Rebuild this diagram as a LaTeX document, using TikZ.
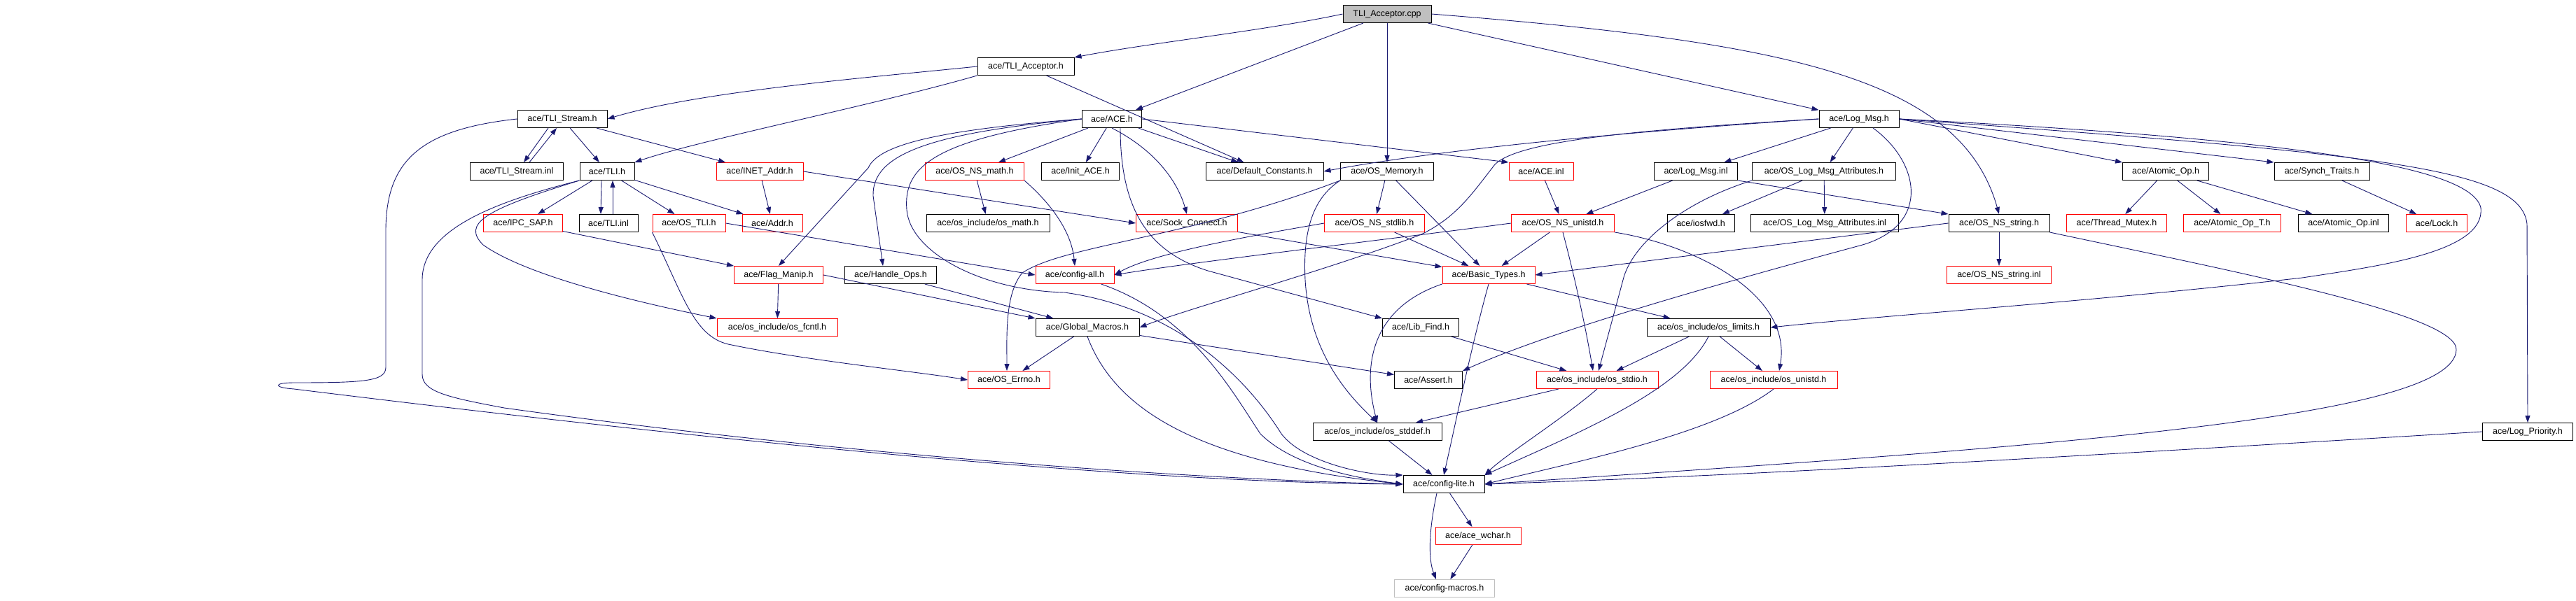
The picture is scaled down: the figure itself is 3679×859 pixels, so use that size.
\documentclass[tikz,border=0pt]{standalone}
\usepackage{fontspec}
\setmainfont{Liberation Sans}
\usetikzlibrary{arrows.meta}
\definecolor{edgeblue}{HTML}{191970}
\definecolor{topgray}{HTML}{BFBFBF}
\tikzset{
  file/.style={draw=black, line width=1pt, minimum height=25pt, inner sep=0pt, fill=white,
    font=\fontsize{12.5}{14}\selectfont},
  nofile/.style={file, draw=red},
  dep/.style={draw=edgeblue, line width=0.9pt, -{Triangle[length=10pt,width=7pt]}},
}
\begin{document}
\begin{tikzpicture}[x=1pt,y=-1pt]
  \useasboundingbox (0,0) rectangle (3679,859);
  %%%%% files %%%%%
  \node[file, fill=topgray, minimum width=126pt] (cpp) at (1981,20) {TLI\_Acceptor.cpp};
  \node[file, minimum width=138pt] (tliacc) at (1465,95) {ace/TLI\_Acceptor.h};

  \node[file, minimum width=128pt] (tlis) at (803,170) {ace/TLI\_Stream.h};
  \node[file, minimum width=85pt] (ace) at (1588,170) {ace/ACE.h};
  \node[file, minimum width=114pt] (logmsg) at (2655,170) {ace/Log\_Msg.h};

  \node[file, minimum width=133pt] (tlisinl) at (738,245) {ace/TLI\_Stream.inl};
  \node[file, minimum width=78pt] (tli) at (867,245) {ace/TLI.h};
  \node[nofile, minimum width=124pt] (inet) at (1085,245) {ace/INET\_Addr.h};
  \node[nofile, minimum width=141pt] (nsmath) at (1392,245) {ace/OS\_NS\_math.h};
  \node[file, minimum width=111pt] (init) at (1543,245) {ace/Init\_ACE.h};
  \node[file, minimum width=168pt] (defc) at (1806,245) {ace/Default\_Constants.h};
  \node[file, minimum width=133pt] (mem) at (1981,245) {ace/OS\_Memory.h};
  \node[nofile, minimum width=92pt] (aceinl) at (2201,245) {ace/ACE.inl};
  \node[file, minimum width=119pt] (logmsginl) at (2422,245) {ace/Log\_Msg.inl};
  \node[file, minimum width=205pt] (lma) at (2605,245) {ace/OS\_Log\_Msg\_Attributes.h};
  \node[file, minimum width=123pt] (atom) at (3093,245) {ace/Atomic\_Op.h};
  \node[file, minimum width=136pt] (synch) at (3316,245) {ace/Synch\_Traits.h};

  \node[nofile, minimum width=113pt] (ipc) at (747,319) {ace/IPC\_SAP.h};
  \node[file, minimum width=84pt] (tliinl) at (869,319) {ace/TLI.inl};
  \node[nofile, minimum width=104pt] (ostli) at (984,319) {ace/OS\_TLI.h};
  \node[nofile, minimum width=86pt] (addr) at (1103,319) {ace/Addr.h};
  \node[file, minimum width=176pt] (osmath) at (1411,319) {ace/os\_include/os\_math.h};
  \node[nofile, minimum width=145pt] (sock) at (1695,319) {ace/Sock\_Connect.h};
  \node[nofile, minimum width=143pt] (nsstdlib) at (1963,319) {ace/OS\_NS\_stdlib.h};
  \node[nofile, minimum width=147pt] (nsunistd) at (2232,319) {ace/OS\_NS\_unistd.h};
  \node[file, minimum width=96pt] (iosfwd) at (2429,319) {ace/iosfwd.h};
  \node[file, minimum width=211pt] (lmainl) at (2606,319) {ace/OS\_Log\_Msg\_Attributes.inl};
  \node[file, minimum width=144pt] (nsstring) at (2855,319) {ace/OS\_NS\_string.h};
  \node[nofile, minimum width=143pt] (mutex) at (3023,319) {ace/Thread\_Mutex.h};
  \node[nofile, minimum width=139pt] (atomt) at (3188,319) {ace/Atomic\_Op\_T.h};
  \node[file, minimum width=129pt] (atominl) at (3347,319) {ace/Atomic\_Op.inl};
  \node[nofile, minimum width=87pt] (lock) at (3480,319) {ace/Lock.h};

  \node[nofile, minimum width=127pt] (flag) at (1112,393) {ace/Flag\_Manip.h};
  \node[file, minimum width=131pt] (handle) at (1272,393) {ace/Handle\_Ops.h};
  \node[nofile, minimum width=112pt] (cfgall) at (1535,393) {ace/config-all.h};
  \node[nofile, minimum width=132pt] (basic) at (2126,393) {ace/Basic\_Types.h};
  \node[nofile, minimum width=149pt] (nsstringinl) at (2855,393) {ace/OS\_NS\_string.inl};

  \node[nofile, minimum width=172pt] (fcntl) at (1110,468) {ace/os\_include/os\_fcntl.h};
  \node[file, minimum width=148pt] (gmac) at (1553,468) {ace/Global\_Macros.h};
  \node[file, minimum width=109pt] (libfind) at (2029,468) {ace/Lib\_Find.h};
  \node[file, minimum width=176pt] (limits) at (2440,468) {ace/os\_include/os\_limits.h};

  \node[nofile, minimum width=117pt] (errno) at (1441,543) {ace/OS\_Errno.h};
  \node[file, minimum width=97pt] (assert) at (2040,543) {ace/Assert.h};
  \node[nofile, minimum width=174pt] (stdio) at (2281,543) {ace/os\_include/os\_stdio.h};
  \node[nofile, minimum width=182pt] (unistd) at (2533,543) {ace/os\_include/os\_unistd.h};

  \node[file, minimum width=184pt] (stddef) at (1967,617) {ace/os\_include/os\_stddef.h};
  \node[file, minimum width=129pt] (logprio) at (3610,617) {ace/Log\_Priority.h};
  \node[file, minimum width=116pt] (lite) at (2062,692) {ace/config-lite.h};
  \node[nofile, minimum width=122pt] (wchar) at (2111,766) {ace/ace\_wchar.h};
  \node[file, draw=topgray, minimum width=143pt] (macros) at (2063,841) {ace/config-macros.h};

  %%%%% includes %%%%%
  \draw[dep] (cpp.west) .. controls (1800,45) and (1650,60) .. (tliacc.north east);
  \draw[dep] (cpp) -- (ace);
  \draw[dep] (cpp) -- (mem);
  \draw[dep] (cpp) -- (logmsg);
  \draw[dep] (cpp.east) .. controls (2550,60) and (2800,110) .. (nsstring.north);

  \draw[dep] (tliacc.west) .. controls (1250,110) and (1000,130) .. (tlis.east);
  \draw[dep] (tliacc.south west) .. controls (1250,150) and (1000,200) .. (tli.north east);
  \draw[dep] (tliacc) -- (defc);

  \draw[dep] ([xshift=-20pt]tlis.south) -- ([xshift=10pt]tlisinl.north);
  \draw[dep] ([xshift=18pt]tlisinl.north) -- ([xshift=-8pt]tlis.south);
  \draw[dep] (tlis) -- (tli);
  \draw[dep] (tlis) -- (inet);
  \draw[dep] (tlis.west) .. controls (600,185) and (551,230) .. (551,330) -- (551,525)
    .. controls (551,545) and (520,547) .. (420,547) .. controls (390,547) and (390,554) .. (420,556)
    .. controls (1100,640) and (1650,690) .. (lite.west);

  \draw[dep] (tli) -- (ipc);
  \draw[dep] ([xshift=-8pt]tli.south) -- ([xshift=-11pt]tliinl.north);
  \draw[dep] ([xshift=6pt]tliinl.north) -- ([xshift=8pt]tli.south);
  \draw[dep] (tli) -- (ostli);
  \draw[dep] (tli) -- (addr);
  \draw[dep] (tli.south west) .. controls (690,300) and (660,320) .. (690,350)
    .. controls (760,400) and (950,440) .. (fcntl.north west);
  \draw[dep] (tli.south west) .. controls (700,290) and (603,330) .. (603,400) -- (603,535)
    .. controls (603,560) and (640,568) .. (720,583) .. controls (1200,650) and (1700,685) .. (lite.west);

  \draw[dep] (inet) -- (addr);
  \draw[dep] (inet.east) -- (sock.west);
  \draw[dep] (ipc) -- (flag);
  \draw[dep] (ostli.south west) .. controls (975,420) and (990,480) .. (1040,492)
    .. controls (1150,515) and (1300,530) .. (errno.west);
  \draw[dep] (ostli.east) -- (cfgall.west);

  \draw[dep] (ace) -- (nsmath);
  \draw[dep] (ace) -- (init);
  \draw[dep] (ace.south) .. controls (1660,220) and (1685,270) .. (sock.north);
  \draw[dep] (ace) -- (defc);
  \draw[dep] (ace.east) -- (aceinl.north west);
  \draw[dep] ([xshift=12pt]ace.south) .. controls (1600,300) and (1640,360) .. (1725,387) -- (libfind.north west);
  \draw[dep] (ace.west) .. controls (1350,185) and (1255,205) .. (1240,240) -- (flag.north);
  \draw[dep] (ace.west) .. controls (1330,190) and (1245,220) .. (1247,280) -- (1261,380);
  \draw[dep] (ace.west) .. controls (1330,200) and (1290,240) .. (1295,300)
    .. controls (1300,360) and (1400,415) .. (1520,418) .. controls (1680,440) and (1780,540) .. (1830,620)
    .. controls (1860,660) and (1950,680) .. (lite.north west);

  \draw[dep] (nsmath) -- (osmath);
  \draw[dep] (nsmath.south east) .. controls (1500,290) and (1530,330) .. (cfgall.north);

  \draw[dep] (logmsg) -- (logmsginl);
  \draw[dep] (logmsg) -- (lma);
  \draw[dep] (logmsg.west) .. controls (2300,190) and (2050,215) .. (defc.east);
  \draw[dep] (logmsg.east) -- (atom.north west);
  \draw[dep] (logmsg.east) -- (synch.north west);
  \draw[dep] (logmsg.west) .. controls (2350,185) and (2170,200) .. (2135,235)
    .. controls (2100,280) and (2080,310) .. (2030,335) .. controls (1900,385) and (1700,440) .. (gmac.east);
  \draw[dep] ([xshift=20pt]logmsg.south) .. controls (2740,230) and (2760,320) .. (2660,350)
    .. controls (2400,420) and (2200,480) .. (assert.north east);
  \draw[dep] (logmsg.east) .. controls (3300,200) and (3530,240) .. (3543,297)
    .. controls (3550,360) and (3400,380) .. (3288,397) .. controls (3000,430) and (2700,450) .. (limits.east);
  \draw[dep] (logmsg.east) .. controls (3400,220) and (3600,240) .. (3609,320) -- (logprio.north);

  \draw[dep] (aceinl) -- (nsunistd);
  \draw[dep] (logmsginl) -- (nsunistd);
  \draw[dep] (logmsginl.south east) -- (nsstring.north west);
  \draw[dep] (lma) -- (iosfwd);
  \draw[dep] (lma) -- (lmainl);
  \draw[dep] (lma.south west) .. controls (2400,290) and (2330,350) .. (2318,400) -- ([xshift=2pt]stdio.north);

  \draw[dep] (atom) -- (mutex);
  \draw[dep] (atom) -- (atomt);
  \draw[dep] (atom) -- (atominl);
  \draw[dep] (synch) -- (lock);

  \draw[dep] (mem) -- (nsstdlib);
  \draw[dep] (mem) -- (basic);
  \draw[dep] (mem.south west) .. controls (1700,340) and (1520,350) .. (1460,390)
    .. controls (1435,420) and (1438,480) .. (1438,530);
  \draw[dep] (mem.south west) .. controls (1880,280) and (1860,320) .. (1864,400)
    .. controls (1870,500) and (1920,560) .. (stddef.north);

  \draw[dep] (sock) -- (basic);
  \draw[dep] (nsstdlib) -- (basic);
  \draw[dep] (nsstdlib.west) .. controls (1800,335) and (1650,360) .. (cfgall.east);
  \draw[dep] (nsunistd) -- (basic);
  \draw[dep] (nsunistd.west) .. controls (2000,340) and (1700,375) .. (cfgall.east);
  \draw[dep] (nsunistd.south) .. controls (2250,400) and (2265,470) .. ([xshift=-6pt]stdio.north);
  \draw[dep] (nsunistd.south east) .. controls (2420,350) and (2560,420) .. ([xshift=8pt]unistd.north);
  \draw[dep] (nsstring.west) -- (basic.east);
  \draw[dep] (nsstring) -- (nsstringinl);
  \draw[dep] (nsstring.south east) .. controls (3200,390) and (3510,450) .. (3508,500)
    .. controls (3505,600) and (2900,640) .. (lite.east);

  \draw[dep] (flag) -- (fcntl);
  \draw[dep] (flag.east) -- (gmac.north west);
  \draw[dep] (handle) -- (gmac);
  \draw[dep] (cfgall) .. controls (1700,450) and (1760,560) .. (1800,620)
    .. controls (1850,670) and (1950,685) .. (lite.west);

  \draw[dep] (basic) -- (limits);
  \draw[dep] (basic.south west) .. controls (1960,440) and (1945,520) .. (stddef.north);
  \draw[dep] (basic.south) .. controls (2100,500) and (2080,600) .. (lite.north);

  \draw[dep] (gmac) -- (errno);
  \draw[dep] (gmac) -- (assert);
  \draw[dep] (gmac.south) .. controls (1590,580) and (1700,660) .. (lite.west);
  \draw[dep] (libfind) -- (stdio);

  \draw[dep] (limits) -- (stdio);
  \draw[dep] (limits) -- (unistd);
  \draw[dep] (limits.south) .. controls (2400,560) and (2250,620) .. (lite.north east);
  \draw[dep] (stdio) -- (stddef);
  \draw[dep] (stdio.south) .. controls (2230,600) and (2150,650) .. (lite.north east);
  \draw[dep] (unistd.south) .. controls (2450,620) and (2250,660) .. (lite.east);
  \draw[dep] (stddef) -- (lite);
  \draw[dep] (logprio.west) .. controls (3000,650) and (2500,680) .. (lite.east);

  \draw[dep] (lite) -- (wchar);
  \draw[dep] ([xshift=-10pt]lite.south) .. controls (2040,760) and (2040,800) .. ([xshift=-12pt]macros.north);
  \draw[dep] (wchar) -- (macros);
\end{tikzpicture}
\end{document}
